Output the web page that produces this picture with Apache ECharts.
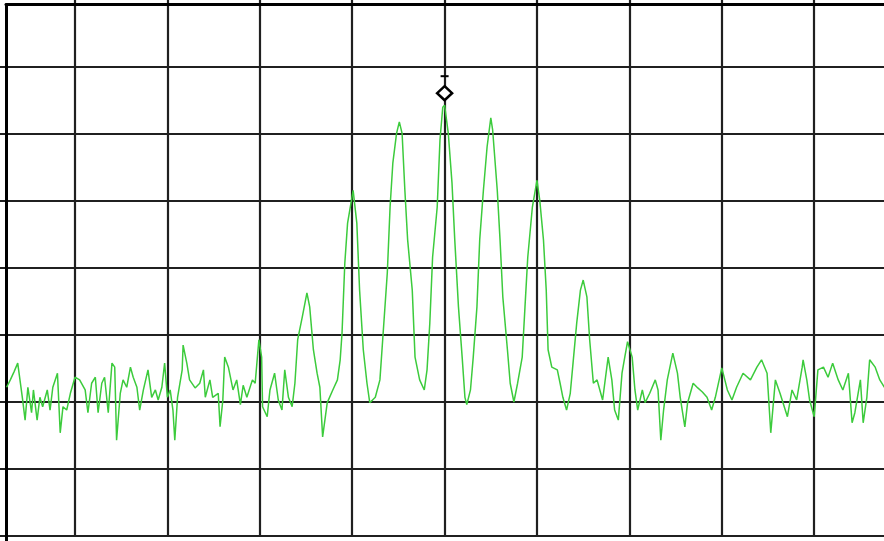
<!DOCTYPE html>
<html>
<head>
<meta charset="utf-8">
<title>Spectrum trace</title>
<script src="https://cdn.jsdelivr.net/npm/echarts@6/dist/echarts.min.js"></script>
<style>
  html, body { margin: 0; padding: 0; background: #ffffff; }
  #chart { width: 884px; height: 541px; }
</style>
</head>
<body>
<div id="chart"></div>
<script>
// Sweep axis: 1000 sweep points across 10 divisions
const sweepMin = 0;
const sweepMax = 1000;
const sweepPerDiv = 100;

// Level axis: 10 dB per division, reference level at the top
const refLevel = 0;
const bottomLevel = -80;
const dbPerDiv = 10;

// Measured trace: sweep point positions
const sweepPoint = [
  26, 30, 34, 38, 43, 46, 49, 53, 55, 59,
  62, 65, 70, 73, 76, 81, 84, 87, 91, 95,
  100, 105, 111, 114, 118, 122, 125, 129, 132, 136,
  140, 143, 145, 149, 152, 156, 160, 163, 167, 170,
  174, 179, 183, 187, 190, 194, 197, 200, 203, 206,
  208, 211, 216, 217, 221, 224, 230, 235, 239, 241,
  246, 249, 255, 257, 260, 262, 266, 268, 271, 275,
  279, 282, 286, 292, 295, 299, 302, 303, 308, 311,
  316, 320, 324, 327, 331, 335, 338, 341, 346, 351,
  354, 358, 362, 365, 368, 373, 379, 384, 387, 389,
  392, 395, 401, 405, 408, 412, 416, 419, 425, 430,
  433, 438, 441, 444, 448, 451, 454, 457, 460, 465,
  468, 473, 478, 481, 484, 487, 492, 495, 498, 500,
  504, 508, 511, 515, 519, 522, 524, 528, 531, 535,
  538, 542, 546, 550, 552, 557, 560, 563, 568, 571,
  575, 579, 584, 587, 590, 595, 600, 603, 607, 610,
  612, 616, 622, 625, 628, 632, 636, 639, 643, 647,
  650, 654, 657, 661, 665, 668, 671, 677, 681, 684,
  688, 692, 695, 698, 703, 706, 709, 714, 717, 722,
  728, 731, 734, 737, 741, 747, 752, 755, 760, 763,
  769, 774, 779, 784, 789, 793, 800, 806, 811, 816,
  823, 831, 838, 843, 849, 853, 858, 863, 871, 876,
  881, 887, 888, 892, 895, 900, 904, 910, 915, 920,
  926, 931, 937, 941, 944, 950, 953, 957, 960, 966,
  971, 976
];

// Measured trace: level in dBm at each sweep point
const levelDbm = [
  -57.8, -56.7, -55.5, -54.2, -59.3, -62.7, -57.8, -61.6, -58.2, -62.7,
  -59.3, -60.7, -58.2, -61.2, -57.8, -55.7, -64.6, -60.7, -61.2, -58.7,
  -56.3, -56.7, -58.2, -61.6, -57.2, -56.3, -61.6, -57.2, -56.3, -61.6,
  -54.2, -54.8, -65.7, -58.7, -56.7, -57.8, -54.8, -56.3, -57.8, -61.2,
  -58.2, -55.2, -59.3, -58.2, -59.7, -57.8, -54.2, -59.3, -58.2, -61.2,
  -65.7, -59.3, -55.2, -51.5, -54.2, -56.7, -57.9, -57.2, -55.2, -59.3,
  -56.7, -59.3, -58.7, -63.7, -59.7, -53.3, -54.8, -54.8, -58.2, -56.7,
  -60.4, -57.5, -59.3, -56.7, -57.2, -50.7, -53.3, -60.7, -62.2, -58.2,
  -55.7, -59.7, -61.2, -55.2, -59.3, -60.7, -57.2, -50.7, -47.3, -43.7,
  -45.8, -52.2, -55.7, -57.8, -65.2, -60.1, -58.2, -56.7, -53.7, -49.7,
  -39.3, -33.3, -28.4, -33.3, -43.3, -52.2, -57.2, -60.1, -59.3, -56.7,
  -50.7, -40.7, -30.9, -24.3, -19.9, -18.2, -19.9, -28.4, -35.8, -43.3,
  -53.3, -56.7, -58.2, -55.2, -48.2, -38.4, -30.9, -20.9, -16.0, -15.7,
  -19.9, -27.3, -35.8, -45.8, -53.3, -59.3, -60.4, -58.2, -53.3, -45.8,
  -35.8, -28.4, -21.9, -17.6, -19.4, -28.4, -35.8, -44.3, -52.2, -57.2,
  -60.0, -57.2, -53.3, -45.8, -38.4, -30.9, -26.9, -29.9, -35.8, -43.3,
  -52.2, -54.8, -55.2, -57.2, -59.3, -61.2, -58.7, -54.2, -48.2, -43.3,
  -41.8, -44.3, -50.7, -57.2, -56.7, -58.2, -59.7, -53.3, -56.7, -61.2,
  -62.7, -55.7, -53.3, -51.0, -53.3, -58.2, -61.2, -58.2, -60.1, -58.7,
  -56.7, -58.2, -65.7, -61.2, -56.7, -52.7, -55.7, -59.3, -63.7, -60.1,
  -57.2, -57.9, -58.5, -59.3, -61.2, -59.3, -54.9, -58.2, -59.7, -57.8,
  -55.7, -56.7, -54.8, -53.7, -55.7, -64.6, -56.7, -58.7, -62.2, -58.2,
  -59.7, -54.8, -53.7, -56.7, -59.7, -62.2, -55.2, -54.8, -56.3, -54.2,
  -56.7, -58.2, -55.7, -63.1, -61.6, -56.7, -63.1, -59.3, -53.7, -54.8,
  -56.7, -57.8
];

const traceData = sweepPoint.map((p, i) => [p, levelDbm[i]]);

const gridColor = '#202020';
const traceColor = '#3ccb3c';

const chart = echarts.init(document.getElementById('chart'), null, { renderer: 'canvas' });

chart.setOption({
  animation: false,
  backgroundColor: '#ffffff',
  grid: [
    // graticule: 10 x 8 divisions, wider than the visible window
    { left: -17.4, right: -22.6, top: 0, bottom: 5, outerBoundsMode: 'none', containLabel: false },
    // display frame (top and left edges)
    { left: 6, top: 4.5, right: -20, bottom: -20, outerBoundsMode: 'none', containLabel: false }
  ],
  xAxis: [
    {
      gridIndex: 0, type: 'value', min: sweepMin, max: sweepMax, interval: sweepPerDiv,
      axisLine: { show: false }, axisTick: { show: false }, axisLabel: { show: false },
      splitLine: { show: true, lineStyle: { color: gridColor, width: 2.2 } }
    },
    {
      gridIndex: 1, type: 'value', min: 0, max: 1, position: 'top',
      axisLine: { show: true, onZero: false, lineStyle: { color: '#000000', width: 3 } },
      axisTick: { show: false }, axisLabel: { show: false }, splitLine: { show: false }
    }
  ],
  yAxis: [
    {
      gridIndex: 0, type: 'value', min: bottomLevel, max: refLevel, interval: dbPerDiv,
      axisLine: { show: false }, axisTick: { show: false }, axisLabel: { show: false },
      splitLine: { show: true, showMaxLine: false, lineStyle: { color: gridColor, width: 2.2 } }
    },
    {
      gridIndex: 1, type: 'value', min: 0, max: 1, position: 'left',
      axisLine: { show: true, onZero: false, lineStyle: { color: '#000000', width: 3 } },
      axisTick: { show: false }, axisLabel: { show: false }, splitLine: { show: false }
    }
  ],
  series: [
    {
      type: 'line',
      xAxisIndex: 0,
      yAxisIndex: 0,
      data: traceData,
      showSymbol: false,
      smooth: false,
      lineStyle: { color: traceColor, width: 1.5 },
      itemStyle: { color: traceColor },
      markPoint: {
        silent: true,
        label: { show: false },
        data: [
          {
            type: 'max', symbol: 'diamond', symbolSize: [15, 14], symbolOffset: [0, -12],
            itemStyle: { color: '#ffffff', borderColor: '#000000', borderWidth: 2.5 }
          },
          {
            type: 'max', symbol: 'rect', symbolSize: [8, 2], symbolOffset: [0, -29],
            itemStyle: { color: '#000000' }
          }
        ]
      }
    }
  ]
});
</script>
</body>
</html>
